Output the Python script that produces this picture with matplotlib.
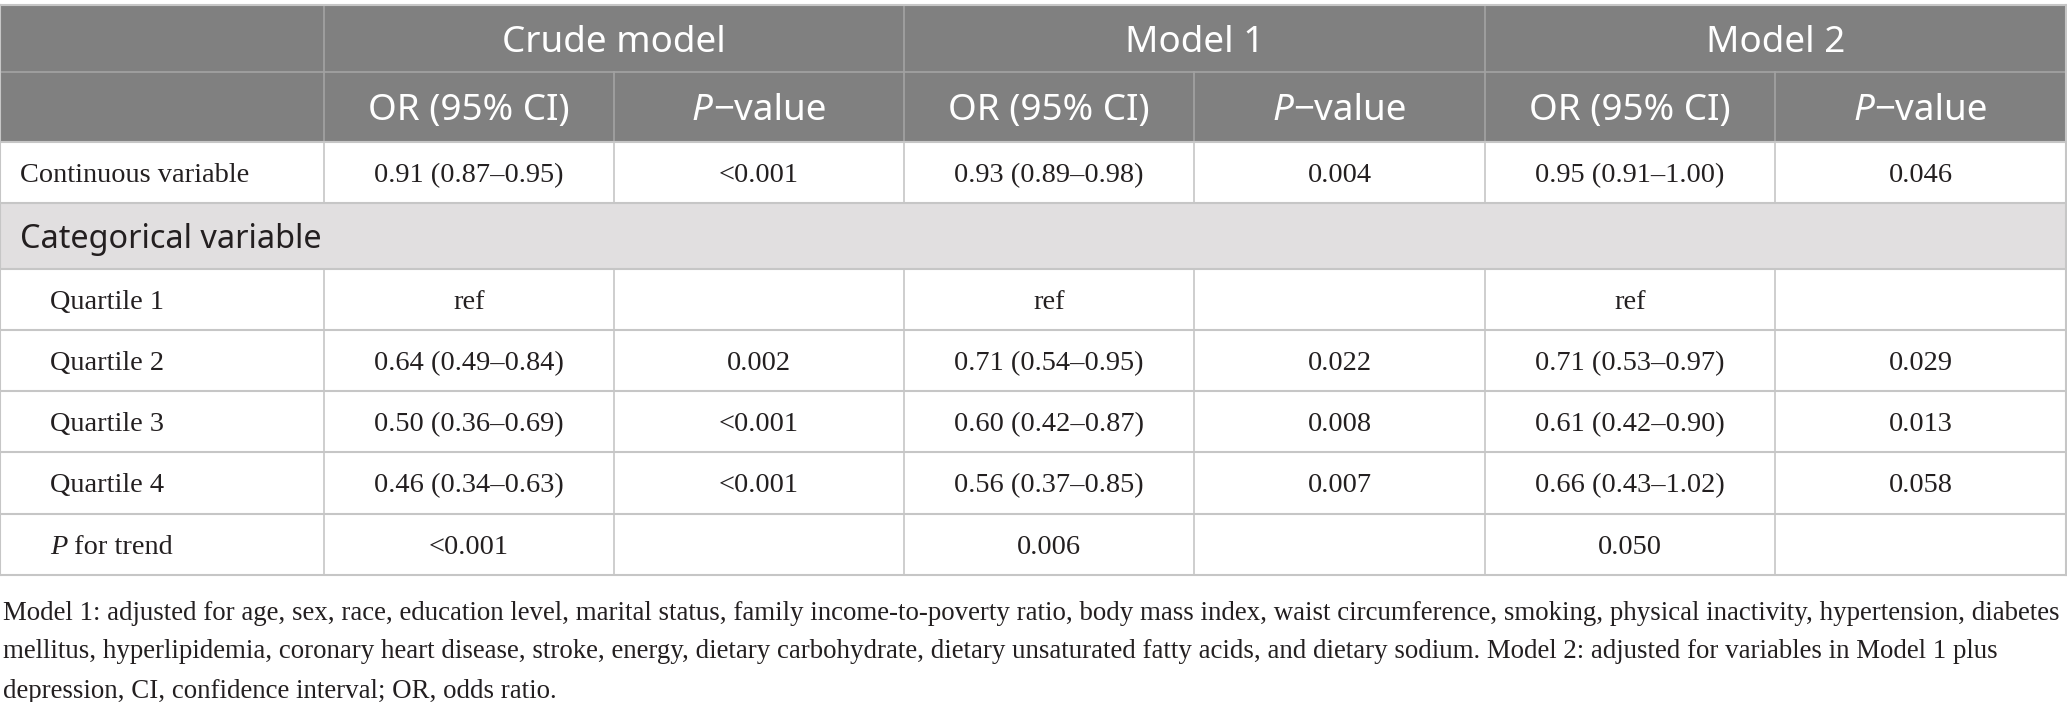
import matplotlib
matplotlib.use("Agg")
import matplotlib.pyplot as plt
from matplotlib.patches import Rectangle

# --- table content ---
models = ["Crude model", "Model 1", "Model 2"]
sub_headers = ["OR (95% CI)", "P-value"]

continuous_label = "Continuous variable"
continuous_or = ["0.91 (0.87–0.95)", "0.93 (0.89–0.98)", "0.95 (0.91–1.00)"]
continuous_p = ["<0.001", "0.004", "0.046"]

section_label = "Categorical variable"

row_labels = ["Quartile 1", "Quartile 2", "Quartile 3", "Quartile 4", "P for trend"]
crude_or = ["ref", "0.64 (0.49–0.84)", "0.50 (0.36–0.69)", "0.46 (0.34–0.63)", "<0.001"]
crude_p = ["", "0.002", "<0.001", "<0.001", ""]
m1_or = ["ref", "0.71 (0.54–0.95)", "0.60 (0.42–0.87)", "0.56 (0.37–0.85)", "0.006"]
m1_p = ["", "0.022", "0.008", "0.007", ""]
m2_or = ["ref", "0.71 (0.53–0.97)", "0.61 (0.42–0.90)", "0.66 (0.43–1.02)", "0.050"]
m2_p = ["", "0.029", "0.013", "0.058", ""]

footnote = [
    "Model 1: adjusted for age, sex, race, education level, marital status, family income-to-poverty ratio, "
    "body mass index, waist circumference, smoking, physical inactivity, hypertension, diabetes",
    "mellitus, hyperlipidemia, coronary heart disease, stroke, energy, dietary carbohydrate, dietary "
    "unsaturated fatty acids, and dietary sodium. Model 2: adjusted for variables in Model 1 plus",
    "depression, CI, confidence interval; OR, odds ratio.",
]

# --- layout (pixels) ---
W, H = 2067, 702
col_x = [0, 324, 614, 904, 1194, 1485, 1775, 2066]
row_y = [5, 72, 142, 203, 269, 330, 391, 452, 514, 575]
foot_y = [613, 652, 691]
dy = 3  # nudge text down so glyphs look centred

head_bg = "#808080"
head_line = "#a3a3a3"
section_bg = "#e1dfe0"
grid = "#c6c6c6"
ink = "#231f20"

SANS = "Noto Sans"
SERIF = "Liberation Serif"
hsize = 26.5
bsize = 20.4
fsize = 19.4

fig = plt.figure(figsize=(W / 100, H / 100), dpi=100)
ax = fig.add_axes([0, 0, 1, 1])
ax.set_xlim(0, W)
ax.set_ylim(H, 0)
ax.axis("off")
renderer = fig.canvas.get_renderer()


def mixed(x, y, parts, ha="left", **kw):
    # parts: list of (text, style); draws pieces side by side
    arts = []
    for txt, style in parts:
        t = ax.text(0, y, txt, va="center", ha="left", style=style, **kw)
        arts.append(t)
    widths = [t.get_window_extent(renderer).width for t in arts]
    total = sum(widths)
    start = x - total / 2 if ha == "center" else x
    for t, w in zip(arts, widths):
        t.set_x(start)
        start += w


# header background
ax.add_patch(Rectangle((0, row_y[0]), W, row_y[2] - row_y[0], color=head_bg, lw=0))
# categorical section background
ax.add_patch(Rectangle((0, row_y[3]), W, row_y[4] - row_y[3], color=section_bg, lw=0))

# header lines
ax.plot([0, W], [row_y[1], row_y[1]], color=head_line, lw=1.2)
for x in [col_x[1], col_x[3], col_x[5]]:
    ax.plot([x, x], [row_y[0], row_y[2]], color=head_line, lw=1.2)
for x in [col_x[2], col_x[4], col_x[6]]:
    ax.plot([x, x], [row_y[1], row_y[2]], color=head_line, lw=1.2)

# body grid
for y in row_y[2:]:
    ax.plot([0, W], [y, y], color=grid, lw=1.5)
ax.plot([0, W], [row_y[0], row_y[0]], color=grid, lw=1.5)
for y0, y1 in [(row_y[2], row_y[3]), (row_y[4], row_y[-1])]:
    for x in col_x[1:-1]:
        ax.plot([x, x], [y0, y1], color=grid, lw=1.2)
ax.plot([0, 0], [row_y[0], row_y[-1]], color=grid, lw=1.5)
ax.plot([W - 1, W - 1], [row_y[0], row_y[-1]], color=grid, lw=1.5)

# header text
for i, m in enumerate(models):
    xc = (col_x[1 + 2 * i] + col_x[3 + 2 * i]) / 2
    ax.text(xc, (row_y[0] + row_y[1]) / 2 + dy + 2, m, ha="center", va="center",
            family=SANS, fontsize=hsize, color="white")
    yc = (row_y[1] + row_y[2]) / 2 + dy + 1
    ax.text((col_x[1 + 2 * i] + col_x[2 + 2 * i]) / 2, yc, sub_headers[0],
            ha="center", va="center", family=SANS, fontsize=hsize, color="white")
    mixed((col_x[2 + 2 * i] + col_x[3 + 2 * i]) / 2, yc,
          [("P", "italic"), ("\u2212value", "normal")], ha="center",
          family=SANS, fontsize=hsize, color="white")

centers = [(col_x[k] + col_x[k + 1]) / 2 for k in range(1, 7)]

# continuous row
yc = (row_y[2] + row_y[3]) / 2 + dy
ax.text(20, yc, continuous_label, ha="left", va="center", family=SERIF, fontsize=bsize, color=ink)
for i in range(3):
    ax.text(centers[2 * i], yc, continuous_or[i], ha="center", va="center",
            family=SERIF, fontsize=bsize, color=ink)
    ax.text(centers[2 * i + 1], yc, continuous_p[i], ha="center", va="center",
            family=SERIF, fontsize=bsize, color=ink)

# section row: in the reference the label runs right up to the first column line
sec = ax.text(20, (row_y[3] + row_y[4]) / 2 + dy, section_label, ha="left", va="center",
              family=SANS, fontsize=10, color=ink)
w10 = sec.get_window_extent(renderer).width
sec.set_fontsize(10 * (col_x[1] - 22) / w10)

# quartile rows
cols = [crude_or, crude_p, m1_or, m1_p, m2_or, m2_p]
for r, lab in enumerate(row_labels):
    yc = (row_y[4 + r] + row_y[5 + r]) / 2 + dy
    if lab.startswith("P "):
        mixed(50, yc, [("P", "italic"), (lab[1:], "normal")],
              family=SERIF, fontsize=bsize, color=ink)
    else:
        ax.text(50, yc, lab, ha="left", va="center", family=SERIF, fontsize=bsize, color=ink)
    for k, col in enumerate(cols):
        ax.text(centers[k], yc, col[r], ha="center", va="center",
                family=SERIF, fontsize=bsize, color=ink)

# footnote
for line, y in zip(footnote, foot_y):
    ax.text(3, y, line, ha="left", va="center", family=SERIF, fontsize=fsize, color=ink)

fig.savefig("out.png", dpi=100)
